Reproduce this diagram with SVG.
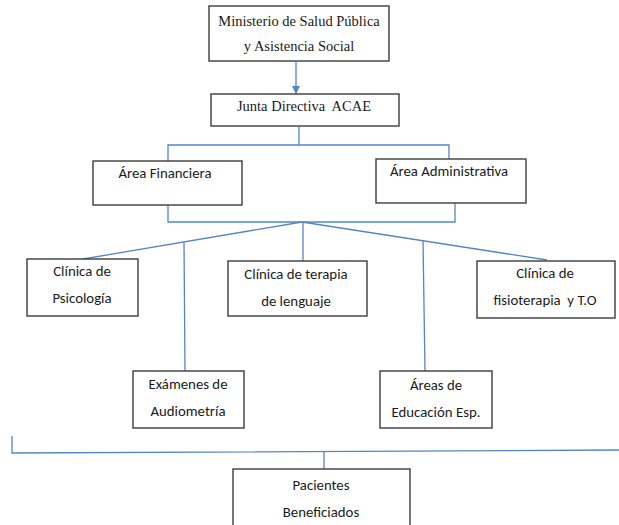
<svg xmlns="http://www.w3.org/2000/svg" width="619" height="525" viewBox="0 0 619 525">
<style>
.box{fill:#fff;stroke:#3c3c3c;stroke-width:1.4}
.c{fill:none;stroke:#5585c5;stroke-width:1.3}
.s{font-family:"Liberation Serif","Times New Roman",serif;font-size:14.5px;fill:#1a1a1a;text-anchor:middle}
.t{font-family:Carlito,Lato,sans-serif;font-size:14.8px;fill:#1a1a1a;text-anchor:middle}
</style>
<defs>
<marker id="ah" markerWidth="8" markerHeight="8" refX="7" refY="4" orient="auto" markerUnits="userSpaceOnUse">
<path d="M0,0 L8,4 L0,8 z" fill="#5585c5"/>
</marker>
</defs>
<rect width="619" height="525" fill="#fff"/>
<g id="connectors">
<line class="c" x1="296" y1="62" x2="296" y2="93" marker-end="url(#ah)"/>
<polyline class="c" points="168,161 168,145 449,145 449,159"/>
<line class="c" x1="299" y1="127" x2="299" y2="145"/>
<polyline class="c" points="168,205 168,222 455,222 455,203"/>
<line class="c" x1="302" y1="222" x2="83" y2="259"/>
<line class="c" x1="302" y1="222" x2="547" y2="260"/>
<line class="c" x1="303" y1="222" x2="303" y2="261"/>
<line class="c" x1="184" y1="242" x2="185" y2="371"/>
<line class="c" x1="423" y1="240" x2="425" y2="371"/>
<polyline class="c" points="12,436 12,453 619,450"/>
<line class="c" x1="324" y1="452" x2="324" y2="469"/>
</g>
<g id="ministerio">
<rect class="box" x="209" y="6" width="180" height="55"/>
<text class="s" x="299" y="26">Ministerio de Salud Pública</text>
<text class="s" x="299" y="51">y Asistencia Social</text>
</g>
<g id="junta">
<rect class="box" x="211" y="94" width="188" height="32"/>
<text class="s" x="304" y="111" xml:space="preserve">Junta Directiva  ACAE</text>
</g>
<g id="financiera">
<rect class="box" x="93" y="161" width="149" height="44"/>
<text class="t" x="165" y="178">Área Financiera</text>
</g>
<g id="administrativa">
<rect class="box" x="376" y="159" width="150" height="44"/>
<text class="t" x="449" y="176">Área Administrativa</text>
</g>
<g id="psicologia">
<rect class="box" x="27" y="259" width="111" height="57"/>
<text class="t" x="82" y="276">Clínica de</text>
<text class="t" x="82" y="303">Psicología</text>
</g>
<g id="terapia">
<rect class="box" x="228" y="261" width="139" height="55"/>
<text class="t" x="296" y="279">Clínica de terapia</text>
<text class="t" x="296" y="306">de lenguaje</text>
</g>
<g id="fisioterapia">
<rect class="box" x="477" y="261" width="138" height="57"/>
<text class="t" x="545" y="278">Clínica de</text>
<text class="t" x="545" y="305" xml:space="preserve">fisioterapia  y T.O</text>
</g>
<g id="examenes">
<rect class="box" x="133" y="371" width="111" height="57"/>
<text class="t" x="188" y="389">Exámenes de</text>
<text class="t" x="188" y="416">Audiometría</text>
</g>
<g id="areas">
<rect class="box" x="380" y="371" width="112" height="57"/>
<text class="t" x="436" y="390">Áreas de</text>
<text class="t" x="436" y="417">Educación Esp.</text>
</g>
<g id="pacientes">
<rect class="box" x="233" y="469" width="177" height="70"/>
<text class="t" x="321" y="490">Pacientes</text>
<text class="t" x="321" y="517">Beneficiados</text>
</g>
</svg>
